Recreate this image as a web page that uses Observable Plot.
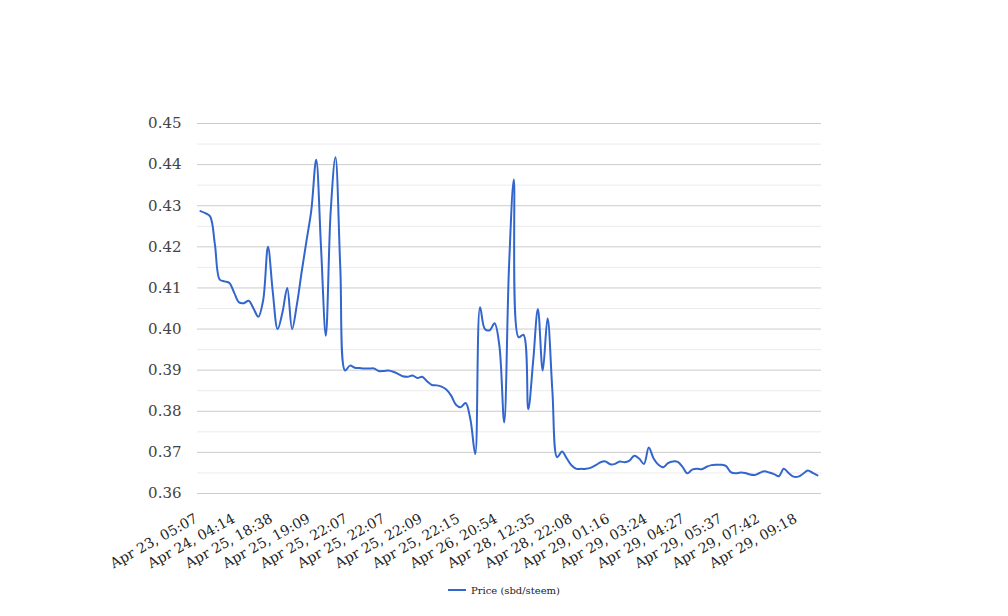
<!DOCTYPE html>
<html>
<head>
<meta charset="utf-8">
<script src="https://cdn.jsdelivr.net/npm/d3@7"></script>
<script src="https://cdn.jsdelivr.net/npm/@observablehq/plot@0.6"></script>
<style>
  html, body { margin: 0; padding: 0; background: #fff; }
  #chart svg { display: block; }
  #legend { display: flex; justify-content: center; align-items: center; padding-top: 12px; height: 16px;
            font-family: "DejaVu Serif", serif; font-size: 10px; color: #222; }
  #legend .sw { width: 18px; height: 2px; background: #3366cc; margin-right: 5px; }
</style>
</head>
<body>
<div id="chart"></div>
<div id="legend"><span class="sw"></span><span id="legendText"></span></div>
<script>
// Price (sbd/steem), one value per sample
const prices = [
  0.4287, 0.4282, 0.4274, 0.4205, 0.4120, 0.4116, 0.4112, 0.4088, 0.4065, 0.4063,
  0.4069, 0.4050, 0.4030, 0.4070, 0.4200, 0.4090, 0.4000, 0.4040, 0.4100, 0.4000,
  0.4060, 0.4140, 0.4215, 0.4290, 0.4412, 0.4200, 0.3984, 0.4284, 0.4418, 0.4150,
  0.3899, 0.3911, 0.3906, 0.3905, 0.3904, 0.3904, 0.3904, 0.3898, 0.3898, 0.3899,
  0.3896, 0.3891, 0.3885, 0.3884, 0.3887, 0.3881, 0.3884, 0.3873, 0.3864, 0.3863,
  0.3860, 0.3853, 0.3838, 0.3816, 0.3810, 0.3820, 0.3780, 0.3696, 0.4053, 0.4000,
  0.3997, 0.4014, 0.3960, 0.3773, 0.4150, 0.4364, 0.3980, 0.3986, 0.3805, 0.3920,
  0.4049, 0.3899, 0.4026, 0.3850, 0.3688, 0.3702, 0.3685, 0.3668, 0.3660, 0.3660,
  0.3660, 0.3663, 0.3669, 0.3676, 0.3678, 0.3671, 0.3672, 0.3678, 0.3676, 0.3680,
  0.3692, 0.3685, 0.3672, 0.3712, 0.3685, 0.3670, 0.3664, 0.3674, 0.3678, 0.3677,
  0.3665, 0.3649, 0.3658, 0.3660, 0.3659, 0.3665, 0.3669, 0.3670, 0.3670, 0.3667,
  0.3652, 0.3649, 0.3651, 0.3650, 0.3646, 0.3645, 0.3650, 0.3654, 0.3651, 0.3647,
  0.3642, 0.3660, 0.3650, 0.3641, 0.3641, 0.3648, 0.3656, 0.3650, 0.3644
];
const tickLabels = [
  "Apr 23, 05:07", "Apr 24, 04:14", "Apr 25, 18:38", "Apr 25, 19:09", "Apr 25, 22:07",
  "Apr 25, 22:07", "Apr 25, 22:09", "Apr 25, 22:15", "Apr 26, 20:54", "Apr 28, 12:35",
  "Apr 28, 22:08", "Apr 29, 01:16", "Apr 29, 03:24", "Apr 29, 04:27", "Apr 29, 05:37",
  "Apr 29, 07:42", "Apr 29, 09:18"
];
const labelStep = 7.77; // samples between labelled categories
const yMajorTicks = [0.36, 0.37, 0.38, 0.39, 0.40, 0.41, 0.42, 0.43, 0.44, 0.45];
const yMinorTicks = [0.365, 0.375, 0.385, 0.395, 0.405, 0.415, 0.425, 0.435, 0.445];
const seriesName = "Price (sbd/steem)";

const data = prices.map((v, i) => ({ i, v }));
const labelData = tickLabels.map((t, j) => ({ t, pos: j * labelStep }));

const chart = Plot.plot({
  width: 1008,
  height: 570,
  marginLeft: 197,
  marginRight: 187,
  marginTop: 123,
  marginBottom: 77,
  x: { domain: [-0.62, prices.length - 1 + 0.83], axis: null },
  y: { domain: [0.36, 0.45], axis: null },
  style: { fontFamily: "DejaVu Serif", fontSize: "15px", color: "#444", background: "#fff" },
  marks: [
    Plot.ruleY(yMinorTicks, { stroke: "#ebebeb", strokeWidth: 1 }),
    Plot.ruleY(yMajorTicks, { stroke: "#cccccc", strokeWidth: 1 }),
    Plot.axisY({ ticks: yMajorTicks, tickSize: 0, tickPadding: 16, tickFormat: d => d.toFixed(2),
                 fontSize: 15, label: null }),
    Plot.line(data, { x: "i", y: "v", stroke: "#3366cc", strokeWidth: 2, curve: "catmull-rom" }),
    Plot.text(labelData, {
      x: "pos", text: "t", frameAnchor: "bottom", rotate: -29, textAnchor: "end",
      lineAnchor: "middle", dy: 24, dx: -4, fill: "#222", fontSize: 14, fontFamily: "DejaVu Serif"
    })
  ]
});
document.getElementById("chart").append(chart);
document.getElementById("legendText").textContent = seriesName;
</script>
</body>
</html>
